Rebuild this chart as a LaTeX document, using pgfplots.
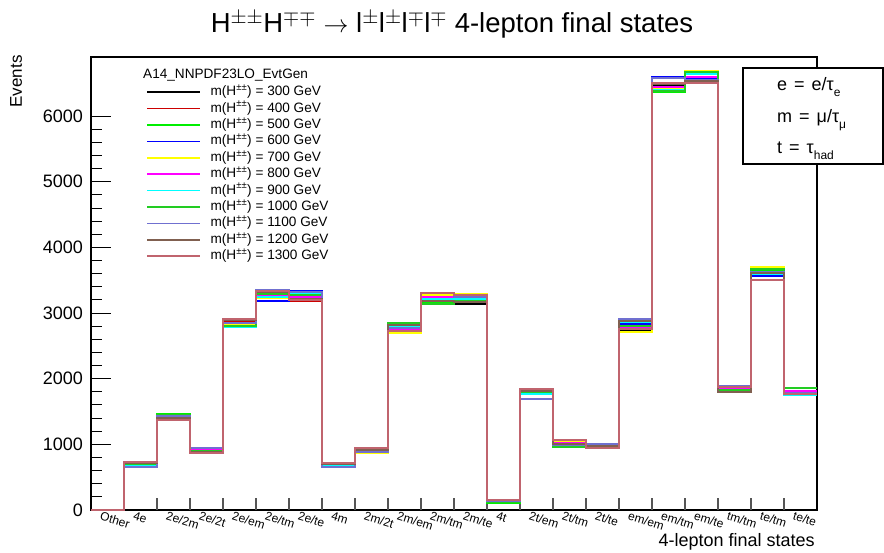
\documentclass[border=0pt]{standalone}
\usepackage{fontspec}
\setmainfont{Liberation Sans}
\usepackage{pgfplots}
\pgfplotsset{compat=1.18}
\usepackage{pgfplotstable}

\definecolor{c300}{HTML}{000000}
\definecolor{c400}{HTML}{CC0000}
\definecolor{c500}{HTML}{00EE00}
\definecolor{c600}{HTML}{0000FF}
\definecolor{c700}{HTML}{FFFF00}
\definecolor{c800}{HTML}{FF00FF}
\definecolor{c900}{HTML}{00FFFF}
\definecolor{c1000}{HTML}{22CC22}
\definecolor{c1100}{HTML}{7070D0}
\definecolor{c1200}{HTML}{806050}
\definecolor{c1300}{HTML}{C0646E}
\definecolor{tickgray}{HTML}{555555}

\pgfplotstableread{
x a b c d e f g h i j k
0 0 0 0 0 0 0 0 0 0 0 0
1 705 712 700 668 690 695 680 708 662 715 725
2 1420 1385 1455 1440 1410 1400 1445 1450 1430 1395 1375
3 890 880 905 935 915 920 950 900 940 885 875
4 2860 2870 2800 2850 2830 2890 2795 2810 2855 2900 2910
5 3300 3260 3310 3190 3230 3270 3250 3290 3355 3320 3340
6 3230 3180 3290 3340 3270 3250 3310 3280 3320 3215 3200
7 700 690 705 665 672 680 668 712 660 695 720
8 905 915 925 895 865 885 900 930 890 920 940
9 2840 2810 2850 2760 2700 2750 2790 2845 2770 2825 2720
10 3200 3160 3150 3300 3280 3240 3220 3140 3305 3190 3310
11 3140 3200 3180 3230 3285 3250 3210 3190 3240 3170 3270
12 130 140 112 135 125 138 128 118 132 145 150
13 1800 1820 1790 1760 1780 1825 1770 1795 1695 1810 1840
14 1000 1040 985 990 1030 1020 970 965 995 1010 1070
15 965 955 975 998 960 950 990 970 1000 980 945
16 2740 2790 2810 2840 2715 2770 2860 2800 2915 2880 2760
17 6470 6450 6370 6590 6420 6440 6400 6385 6580 6490 6500
18 6560 6520 6650 6580 6690 6600 6640 6670 6550 6530 6505
19 1800 1810 1840 1860 1820 1850 1870 1830 1895 1790 1880
20 3580 3560 3640 3570 3695 3590 3600 3675 3620 3610 3510
21 1770 1810 1860 1790 1800 1820 1745 1855 1780 1760 1765
22 1770 1810 1860 1790 1800 1820 1745 1855 1780 1760 1765
}\data

\newcommand\sub[1]{\raisebox{-0.3em}{\fontsize{12}{12}\selectfont #1}}

\begin{document}
\begin{tikzpicture}[x=1pt,y=1pt]
\path[use as bounding box] (0,0) rectangle (884,552);
\begin{axis}[
  at={(91pt,42pt)}, anchor=south west,
  scale only axis, width=726pt, height=453pt,
  xmin=0, xmax=22, ymin=0, ymax=6900,
  clip=false,
  axis line style={black, line width=1.2pt},
  tick align=inside,
  /pgf/number format/assume math mode=true,
  /pgf/number format/1000 sep={},
  ytick={0,1000,2000,3000,4000,5000,6000},
  minor y tick num=4,
  scaled y ticks=false,
  yticklabel style={font=\fontsize{18}{20}\selectfont, anchor=east, inner sep=0pt, xshift=-8pt},
  y tick style={black, line width=1pt},
  major tick length=20pt,
  minor tick length=11pt,
  ytick pos=left,
  xtick={0.5,1.5,...,21.5},
  xticklabels={Other,4e,2e/2m,2e/2t,2e/em,2e/tm,2e/te,4m,2m/2t,2m/em,2m/tm,2m/te,4t,2t/em,2t/tm,2t/te,em/em,em/tm,em/te,tm/tm,te/tm,te/te},
  x tick style={draw=none},
  xtick pos=bottom,
  xticklabel style={font=\fontsize{12}{13}\selectfont, rotate=-17, anchor=north west, inner sep=0pt, xshift=-5pt, yshift=-3pt},
  extra x ticks={1,2,...,21},
  extra x tick labels={},
  extra x tick style={x tick style={draw=tickgray, line width=1.2pt}, major tick length=12pt},
  xlabel={4-lepton final states},
  xlabel style={font=\fontsize{18}{20}\selectfont, at={(axis description cs:0.9972,-0.0795)}, anchor=base east, inner sep=0pt},
  ylabel={Events},
  ylabel style={font=\fontsize{17}{20}\selectfont, at={(axis description cs:-0.1117,1.004)}, anchor=north east, inner sep=0pt},
  legend cell align=left,
  legend style={draw=none, fill=none, at={(axis description cs:0.0759,0.9404)}, anchor=north west,
    font=\fontsize{13.6}{15}\selectfont, inner sep=0pt, row sep=0.4pt,
    nodes={text height=10pt, text depth=3pt, inner sep=1.5pt}},
  legend image code/.code={\draw[#1, line width=1.6pt] (0pt,0pt) -- (53pt,0pt); \path (61pt,0pt);},
]
\addplot[const plot, c300, line width=2pt] table[x=x,y=a]{\data};
\addlegendentry{m(H\textsuperscript{±±}) = 300 GeV}
\addplot[const plot, c400, line width=2pt] table[x=x,y=b]{\data};
\addlegendentry{m(H\textsuperscript{±±}) = 400 GeV}
\addplot[const plot, c500, line width=2pt] table[x=x,y=c]{\data};
\addlegendentry{m(H\textsuperscript{±±}) = 500 GeV}
\addplot[const plot, c600, line width=2pt] table[x=x,y=d]{\data};
\addlegendentry{m(H\textsuperscript{±±}) = 600 GeV}
\addplot[const plot, c700, line width=2pt] table[x=x,y=e]{\data};
\addlegendentry{m(H\textsuperscript{±±}) = 700 GeV}
\addplot[const plot, c800, line width=2pt] table[x=x,y=f]{\data};
\addlegendentry{m(H\textsuperscript{±±}) = 800 GeV}
\addplot[const plot, c900, line width=2pt] table[x=x,y=g]{\data};
\addlegendentry{m(H\textsuperscript{±±}) = 900 GeV}
\addplot[const plot, c1000, line width=2pt] table[x=x,y=h]{\data};
\addlegendentry{m(H\textsuperscript{±±}) = 1000 GeV}
\addplot[const plot, c1100, line width=2pt] table[x=x,y=i]{\data};
\addlegendentry{m(H\textsuperscript{±±}) = 1100 GeV}
\addplot[const plot, c1200, line width=2pt] table[x=x,y=j]{\data};
\addlegendentry{m(H\textsuperscript{±±}) = 1200 GeV}
\addplot[const plot, c1300, line width=2pt] table[x=x,y=k]{\data};
\addlegendentry{m(H\textsuperscript{±±}) = 1300 GeV}
\end{axis}
\node[anchor=base west, inner sep=0pt, font=\fontsize{13.6}{15}\selectfont] at (143,473) {A14\_NNPDF23LO\_EvtGen};
\node[anchor=base, inner sep=0pt, font=\fontsize{27.5}{30}\selectfont] at (452,519)
  {H$^{\pm\pm}$H$^{\mp\mp}$ $\rightarrow$ l$^{\pm}$l$^{\pm}$l$^{\mp}$l$^{\mp}$ 4-lepton final states};
\draw[black, line width=1.5pt, fill=white] (743,388) rectangle (883,484);
\begin{scope}[every node/.style={anchor=base west, inner sep=0pt, font=\fontsize{18}{20}\selectfont}]
\node at (777,461) {e\hspace{7pt}=\hspace{7pt}e/τ\sub{e}};
\node at (777,429) {m\hspace{7pt}=\hspace{7pt}μ/τ\sub{μ}};
\node at (777,398) {t\hspace{7pt}=\hspace{7pt}τ\sub{had}};
\end{scope}
\end{tikzpicture}
\end{document}
